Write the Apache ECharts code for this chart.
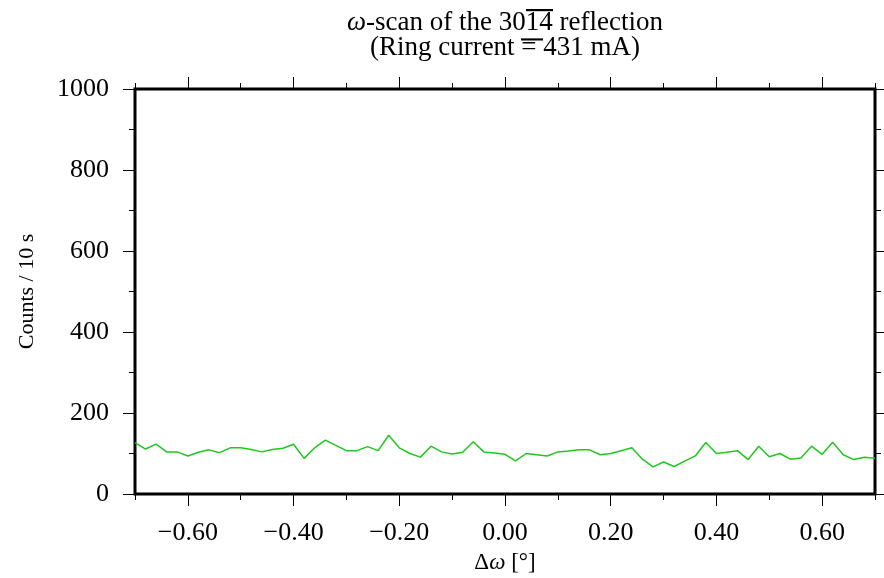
<!DOCTYPE html>
<html>
<head>
<meta charset="utf-8">
<script src="https://cdn.jsdelivr.net/npm/echarts@6/dist/echarts.min.js"></script>
<style>html,body{margin:0;padding:0;background:#fff;}#c{width:884px;height:578px;}</style>
</head>
<body>
<div id="c"></div>
<script>
const deltaOmega = [-0.70,-0.68,-0.66,-0.64,-0.62,-0.60,-0.58,-0.56,-0.54,-0.52,-0.50,-0.48,-0.46,-0.44,-0.42,-0.40,-0.38,-0.36,-0.34,-0.32,-0.30,-0.28,-0.26,-0.24,-0.22,-0.20,-0.18,-0.16,-0.14,-0.12,-0.10,-0.08,-0.06,-0.04,-0.02,0.00,0.02,0.04,0.06,0.08,0.10,0.12,0.14,0.16,0.18,0.20,0.22,0.24,0.26,0.28,0.30,0.32,0.34,0.36,0.38,0.40,0.42,0.44,0.46,0.48,0.50,0.52,0.54,0.56,0.58,0.60,0.62,0.64,0.66,0.68,0.70];
const counts = [127,111,123,104,104,94,103,109,102,114,114,110,104,110,113,123,88,114,133,120,107,107,117,107,145,114,100,91,118,104,99,103,129,104,101,98,82,100,97,94,104,106,109,109,97,100,107,114,86,67,79,68,81,94,127,100,103,107,85,118,92,100,86,89,118,98,128,97,85,91,88];
const xMajorTicks = [-0.6,-0.4,-0.2,0,0.2,0.4,0.6];
const xMinorTicks = [-0.7,-0.5,-0.3,-0.1,0.1,0.3,0.5,0.7];

const FONT = "'Liberation Serif','Times New Roman',serif";

function barCanvas(h, row, thick) {
  const c = document.createElement('canvas');
  c.width = 20; c.height = h;
  const g = c.getContext('2d');
  g.fillStyle = '#000';
  g.fillRect(0, row, 20, thick);
  return c;
}

const fmt = v => (v < 0 ? '\u2212' : '') + Math.abs(v).toFixed(2);
const data = deltaOmega.map((x, i) => [x, counts[i]]);

const chart = echarts.init(document.getElementById('c'), null, {renderer: 'canvas'});
const tickStyle = {color: '#000', width: 1};
const xBase = {type: 'value', min: -0.7, max: 0.7, splitLine: {show: false}, axisLine: {show: false, onZero: false}};
chart.setOption({
  animation: false,
  backgroundColor: '#fff',
  title: {
    left: 505, top: 10, textAlign: 'center', padding: 0,
    text: '{i|\u03c9}-scan of the 30{ov|14} reflection\n(Ring current {ov2|= }431 mA)',
    textStyle: {
      fontFamily: FONT, fontSize: 27, fontWeight: 'normal', color: '#000', lineHeight: 25,
      rich: {
        i: {fontFamily: FONT, fontSize: 27, fontStyle: 'italic', lineHeight: 25},
        ov: {fontFamily: FONT, fontSize: 27, lineHeight: 25, backgroundColor: {image: barCanvas(25, 0, 2)}},
        ov2: {fontFamily: FONT, fontSize: 27, lineHeight: 25, backgroundColor: {image: barCanvas(25, 4, 2)}}
      }
    }
  },
  grid: {left: 135, right: 9, top: 89, bottom: 84, show: true, borderColor: '#000', borderWidth: 3, backgroundColor: 'transparent', containLabel: false, outerBoundsMode: 'none'},
  xAxis: [
    Object.assign({}, xBase, {
      position: 'bottom',
      axisTick: {show: true, customValues: xMajorTicks, length: 12, lineStyle: tickStyle},
      axisLabel: {customValues: xMajorTicks, formatter: fmt, fontFamily: FONT, fontSize: 26, color: '#000', margin: 26},
      name: '\u0394{i|\u03c9} [\u00b0]', nameLocation: 'middle', nameGap: 57,
      nameTextStyle: {fontFamily: FONT, fontSize: 23, color: '#000', rich: {i: {fontFamily: FONT, fontSize: 23, fontStyle: 'italic'}}}
    }),
    Object.assign({}, xBase, {
      position: 'bottom',
      axisTick: {show: true, customValues: xMinorTicks, length: 6, lineStyle: tickStyle},
      axisLabel: {show: false}
    }),
    Object.assign({}, xBase, {
      position: 'top',
      axisTick: {show: true, customValues: xMajorTicks, length: 12, lineStyle: tickStyle},
      axisLabel: {show: false}
    }),
    Object.assign({}, xBase, {
      position: 'top',
      axisTick: {show: true, customValues: xMinorTicks, length: 6, lineStyle: tickStyle},
      axisLabel: {show: false}
    })
  ],
  yAxis: [
    {
      type: 'value', position: 'left', min: 0, max: 1000, interval: 200,
      axisLine: {show: false, onZero: false},
      axisTick: {show: true, length: 12, lineStyle: tickStyle},
      minorTick: {show: true, splitNumber: 2, length: 6, lineStyle: tickStyle},
      splitLine: {show: false}, minorSplitLine: {show: false},
      axisLabel: {fontFamily: FONT, fontSize: 26, color: '#000', margin: 26, formatter: v => String(v)},
      name: 'Counts / 10 s', nameLocation: 'middle', nameRotate: 90, nameGap: 97,
      nameTextStyle: {fontFamily: FONT, fontSize: 22, color: '#000'}
    },
    {
      type: 'value', position: 'right', min: 0, max: 1000, interval: 200,
      axisLine: {show: false, onZero: false},
      axisTick: {show: true, length: 12, lineStyle: tickStyle},
      minorTick: {show: true, splitNumber: 2, length: 6, lineStyle: tickStyle},
      splitLine: {show: false}, minorSplitLine: {show: false},
      axisLabel: {show: false}
    }
  ],
  series: [{
    type: 'line', data: data, xAxisIndex: 0, yAxisIndex: 0,
    showSymbol: false, symbol: 'none', clip: true,
    lineStyle: {color: '#1fc71f', width: 1.5}
  }]
});
</script>
</body>
</html>
